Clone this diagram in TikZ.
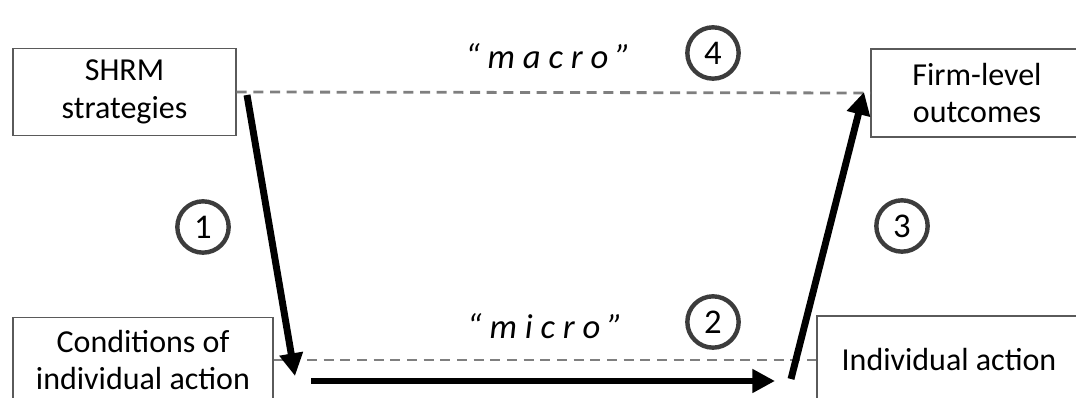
\documentclass[tikz,border=0pt]{standalone}
\usepackage{fontspec}
\setmainfont{Carlito}
\usetikzlibrary{arrows.meta}
\definecolor{boxline}{HTML}{5A5A5A}
\definecolor{ringline}{HTML}{3C3C3C}
\definecolor{dashgray}{HTML}{7F7F7F}
\tikzset{
  levelbox/.style={draw=boxline, line width=1.1pt, rectangle, align=center,
    font=\fontsize{24}{28}\selectfont, inner sep=0pt},
  stepnum/.style={draw=ringline, line width=3.3pt, circle, minimum size=38.5pt,
    inner sep=0pt, font=\fontsize{26}{30}\selectfont},
  levelline/.style={draw=dashgray, line width=2.1pt, dash pattern=on 7.5pt off 5pt},
  causal/.style={line width=5.2pt, -{Triangle[width=17pt,length=17pt]}},
  levelname/.style={font=\fontsize{26}{30}\selectfont\itshape, inner sep=0pt}
}
\begin{document}
\begin{tikzpicture}[x=0.75pt,y=-0.75pt]
  \useasboundingbox (0,0) rectangle (1076,398);
  \clip (0,0) rectangle (1076,398);

  % the four boxes
  \node[levelbox, minimum width=167.25pt, minimum height=65.25pt] (shrm) at (124.5,92) {SHRM\\strategies};
  \node[levelbox, minimum width=159pt, minimum height=66pt] (firm) at (977,93) {Firm-level\\outcomes};
  \node[levelbox, minimum width=195pt, minimum height=64pt] (cond) at (143,360) {Conditions of\\individual action};
  \node[levelbox, minimum width=198pt, minimum height=66pt] (indiv) at (949,360) {Individual action};

  % macro and micro levels
  \draw[levelline] (shrm.east) -- (firm.west);
  \draw[levelline] (cond.east) -- (indiv.west);
  \node[levelname] (macro) at (548,56) {“ m a c r o ”};
  \node[levelname] (micro) at (545,326) {“ m i c r o ”};

  % causal steps
  \coordinate (s1) at (247,95);
  \coordinate (e1) at (295,376);
  \coordinate (s2) at (311,381);
  \coordinate (e2) at (775,381);
  \coordinate (s3) at (791,379);
  \coordinate (e3) at (864,92);
  \draw[causal] (s1) -- (e1);
  \draw[causal] (s2) -- (e2);
  \draw[causal] (s3) -- (e3);

  % step numbers
  \node[stepnum] (n1) at (203,227) {1};
  \node[stepnum] (n2) at (713,322) {2};
  \node[stepnum] (n3) at (902,226) {3};
  \node[stepnum] (n4) at (713,53) {4};
\end{tikzpicture}
\end{document}
